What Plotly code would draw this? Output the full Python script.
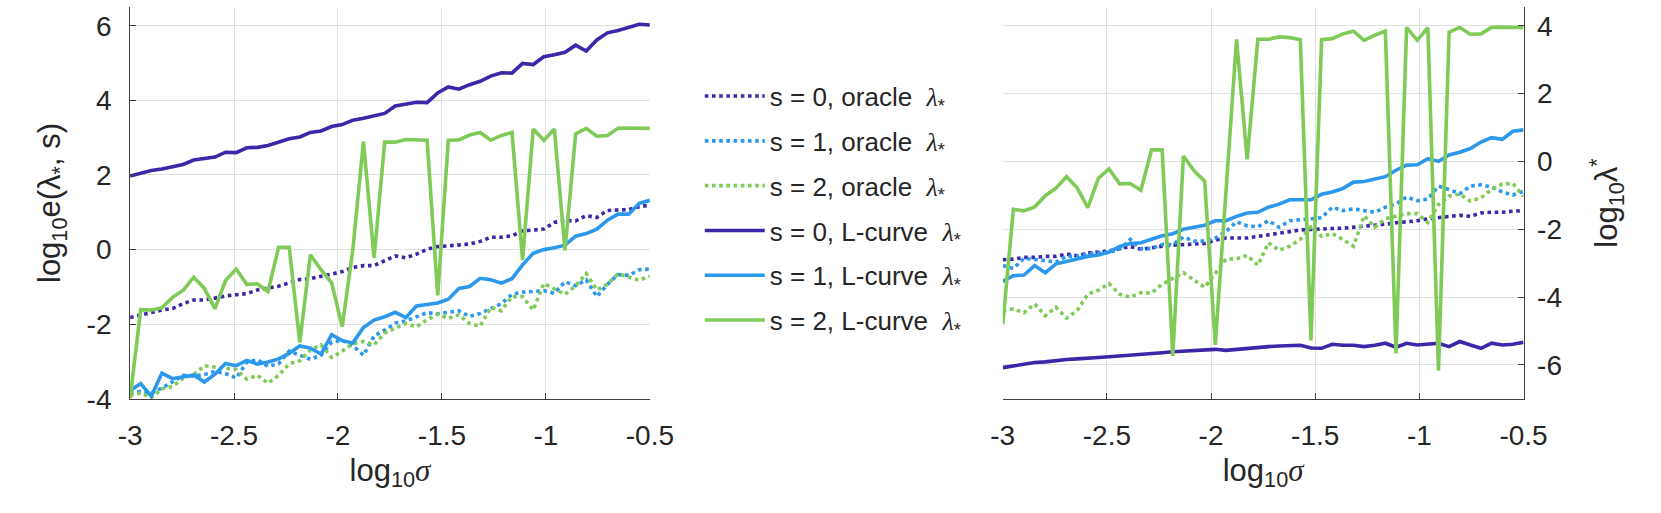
import plotly.graph_objects as go

# ---------------- data ----------------
sigma = [-3.0, -2.949, -2.898, -2.8469, -2.7959, -2.7449, -2.6939, -2.6429, -2.5918, -2.5408,
         -2.4898, -2.4388, -2.3878, -2.3367, -2.2857, -2.2347, -2.1837, -2.1327, -2.0816, -2.0306,
         -1.9796, -1.9286, -1.8776, -1.8265, -1.7755, -1.7245, -1.6735, -1.6224, -1.5714, -1.5204,
         -1.4694, -1.4184, -1.3673, -1.3163, -1.2653, -1.2143, -1.1633, -1.1122, -1.0612, -1.0102,
         -0.9592, -0.9082, -0.8571, -0.8061, -0.7551, -0.7041, -0.6531, -0.602, -0.551, -0.5]

# left panel: log10 e(lambda*, s)
e_oracle_s0 = [-1.82, -1.75, -1.67, -1.62, -1.58, -1.45, -1.35, -1.35, -1.30, -1.24,
               -1.21, -1.18, -1.08, -1.02, -0.98, -0.89, -0.80, -0.78, -0.72, -0.67,
               -0.59, -0.48, -0.43, -0.43, -0.29, -0.17, -0.22, -0.12, 0.01, 0.08,
               0.10, 0.13, 0.15, 0.22, 0.33, 0.33, 0.37, 0.50, 0.53, 0.55,
               0.73, 0.78, 0.77, 0.91, 0.86, 1.05, 1.06, 1.07, 1.15, 1.19]
e_oracle_s1 = [-3.85, -3.80, -3.84, -3.71, -3.54, -3.37, -3.39, -3.35, -3.26, -3.32,
               -3.44, -3.02, -2.95, -3.13, -3.06, -2.72, -2.83, -2.94, -2.83, -2.48,
               -2.43, -2.57, -2.83, -2.31, -2.16, -1.97, -1.91, -1.79, -1.69, -1.72,
               -1.69, -1.64, -1.79, -1.71, -1.58, -1.45, -1.20, -1.14, -1.12, -1.10,
               -1.17, -0.86, -0.97, -0.81, -1.26, -0.93, -0.67, -0.69, -0.54, -0.52]
e_oracle_s2 = [-3.90, -3.84, -3.97, -3.73, -3.67, -3.45, -3.35, -3.11, -3.15, -3.19,
               -3.21, -3.47, -3.37, -3.58, -3.37, -3.06, -2.98, -2.69, -2.55, -2.89,
               -2.72, -2.52, -2.46, -2.55, -2.24, -2.11, -1.98, -2.07, -1.88, -1.73,
               -1.84, -1.75, -1.98, -2.05, -1.55, -1.64, -1.26, -1.26, -1.62, -0.91,
               -1.06, -1.20, -0.97, -0.64, -1.08, -0.93, -0.65, -0.74, -0.82, -0.71]
e_lcurve_s0 = [1.97, 2.04, 2.12, 2.16, 2.21, 2.28, 2.40, 2.44, 2.48, 2.61,
               2.60, 2.73, 2.74, 2.79, 2.87, 2.97, 3.02, 3.14, 3.18, 3.30,
               3.35, 3.47, 3.52, 3.58, 3.65, 3.85, 3.90, 3.95, 3.94, 4.20,
               4.36, 4.30, 4.42, 4.51, 4.65, 4.74, 4.73, 4.99, 4.96, 5.17,
               5.22, 5.29, 5.48, 5.32, 5.62, 5.81, 5.87, 5.96, 6.04, 6.02]
e_lcurve_s1 = [-3.78, -3.59, -3.93, -3.31, -3.46, -3.40, -3.36, -3.55, -3.34, -3.05,
               -3.11, -2.97, -3.07, -3.01, -2.93, -2.78, -2.58, -2.64, -2.80, -2.28,
               -2.44, -2.50, -2.09, -1.89, -1.80, -1.68, -1.82, -1.51, -1.46, -1.43,
               -1.33, -1.04, -0.99, -0.77, -0.81, -0.90, -0.78, -0.41, -0.10, 0.00,
               0.05, 0.12, 0.36, 0.43, 0.55, 0.79, 0.95, 0.95, 1.24, 1.32]
e_lcurve_s2 = [-3.98, -1.61, -1.62, -1.56, -1.28, -1.09, -0.74, -1.04, -1.58, -0.83,
               -0.52, -0.93, -0.92, -1.12, 0.06, 0.06, -2.49, -0.14, -0.54, -0.89,
               -2.07, 0.00, 2.90, -0.22, 2.88, 2.88, 2.95, 2.94, 2.93, -1.23,
               2.93, 2.94, 3.07, 3.14, 2.93, 3.06, 3.14, -0.28, 3.23, 2.93,
               3.23, -0.02, 3.10, 3.25, 3.04, 3.06, 3.25, 3.26, 3.26, 3.25]

# right panel: log10 lambda*
lam_oracle_s0 = [-2.90, -2.88, -2.83, -2.83, -2.80, -2.80, -2.73, -2.78, -2.70, -2.67,
                 -2.64, -2.57, -2.51, -2.59, -2.54, -2.50, -2.47, -2.45, -2.45, -2.42,
                 -2.32, -2.26, -2.26, -2.26, -2.21, -2.17, -2.13, -2.07, -2.02, -2.00,
                 -1.99, -1.98, -1.97, -1.94, -1.92, -1.90, -1.85, -1.81, -1.78, -1.75,
                 -1.69, -1.66, -1.64, -1.59, -1.62, -1.52, -1.50, -1.50, -1.47, -1.45]
lam_oracle_s1 = [-3.07, -3.16, -2.86, -2.88, -2.92, -2.97, -2.80, -2.80, -2.73, -2.69,
                 -2.69, -2.59, -2.30, -2.57, -2.57, -2.45, -2.45, -2.23, -2.35, -2.35,
                 -2.26, -2.07, -1.78, -1.90, -1.93, -1.75, -1.94, -1.75, -1.71, -1.69,
                 -1.66, -1.35, -1.45, -1.40, -1.45, -1.50, -1.35, -1.26, -1.05, -1.16,
                 -1.11, -0.73, -0.83, -0.95, -0.73, -0.69, -0.76, -0.90, -0.99, -0.88]
lam_oracle_s2 = [-4.40, -4.35, -4.46, -4.20, -4.55, -4.30, -4.62, -4.40, -3.91, -3.80,
                 -3.60, -3.92, -4.00, -3.87, -3.88, -3.62, -3.45, -3.28, -3.50, -3.71,
                 -3.30, -2.88, -2.87, -2.77, -3.06, -2.40, -2.62, -2.50, -2.30, -1.93,
                 -2.21, -2.13, -2.30, -2.50, -1.60, -1.94, -1.69, -1.62, -1.54, -1.54,
                 -1.80, -1.27, -1.02, -0.96, -1.17, -1.07, -0.83, -0.67, -0.65, -1.03]
lam_lcurve_s0 = [-6.08, -6.03, -5.96, -5.93, -5.91, -5.87, -5.84, -5.82, -5.81, -5.78,
                 -5.76, -5.74, -5.71, -5.68, -5.66, -5.64, -5.61, -5.59, -5.56, -5.56,
                 -5.54, -5.57, -5.54, -5.50, -5.47, -5.46, -5.44, -5.44, -5.42, -5.50,
                 -5.51, -5.39, -5.42, -5.42, -5.46, -5.42, -5.36, -5.48, -5.36, -5.41,
                 -5.39, -5.36, -5.46, -5.31, -5.41, -5.51, -5.36, -5.41, -5.39, -5.33]
lam_lcurve_s1 = [-3.54, -3.37, -3.35, -3.07, -3.28, -3.02, -2.95, -2.88, -2.80, -2.76,
                 -2.67, -2.51, -2.42, -2.40, -2.30, -2.19, -2.13, -2.00, -1.94, -1.88,
                 -1.75, -1.75, -1.62, -1.52, -1.50, -1.35, -1.26, -1.13, -1.13, -1.13,
                 -0.97, -0.90, -0.80, -0.61, -0.59, -0.51, -0.45, -0.26, -0.11, -0.10,
                 0.08, 0.00, 0.19, 0.27, 0.38, 0.57, 0.70, 0.65, 0.89, 0.93]
lam_lcurve_s2 = [-4.80, -1.41, -1.46, -1.34, -1.01, -0.79, -0.45, -0.78, -1.36, -0.50,
                 -0.22, -0.66, -0.65, -0.85, 0.34, 0.34, -5.73, 0.16, -0.28, -0.58,
                 -5.41, -0.90, 3.60, 0.06, 3.60, 3.60, 3.67, 3.65, 3.59, -5.28,
                 3.59, 3.62, 3.76, 3.84, 3.57, 3.72, 3.84, -5.66, 3.95, 3.57,
                 3.94, -6.17, 3.81, 3.95, 3.75, 3.76, 3.95, 3.95, 3.95, 3.95]

x_tickvals = [-3, -2.5, -2, -1.5, -1, -0.5]
x_ticktext = ["-3", "-2.5", "-2", "-1.5", "-1", "-0.5"]
yl_tickvals = [-4, -2, 0, 2, 4, 6]
yl_ticktext = ["-4", "-2", "0", "2", "4", "6"]
yr_tickvals = [-6, -4, -2, 0, 2, 4]
yr_ticktext = ["-6", "-4", "-2", "0", "2", "4"]

LAM = "<span style='font-family:Liberation Serif'><i>λ</i></span>"
legend_names = [
    "s = 0, oracle \u00a0" + LAM + "<sub>*</sub>",
    "s = 1, oracle \u00a0" + LAM + "<sub>*</sub>",
    "s = 2, oracle \u00a0" + LAM + "<sub>*</sub>",
    "s = 0, L-curve \u00a0" + LAM + "<sub>*</sub>",
    "s = 1, L-curve \u00a0" + LAM + "<sub>*</sub>",
    "s = 2, L-curve \u00a0" + LAM + "<sub>*</sub>",
]

C0, C1, C2 = "#3e26a8", "#2b98ec", "#80cb58"
colors = [C0, C1, C2, C0, C1, C2]
dashes = ["dot", "dot", "dot", "solid", "solid", "solid"]
left_series = [e_oracle_s0, e_oracle_s1, e_oracle_s2, e_lcurve_s0, e_lcurve_s1, e_lcurve_s2]
right_series = [lam_oracle_s0, lam_oracle_s1, lam_oracle_s2, lam_lcurve_s0, lam_lcurve_s1, lam_lcurve_s2]

LW = 3.6
fig = go.Figure()
for k in range(6):
    fig.add_trace(go.Scatter(
        x=sigma, y=left_series[k], mode="lines", name=legend_names[k],
        line=dict(color=colors[k], width=LW, dash=dashes[k]),
        xaxis="x", yaxis="y", legendgroup="g%d" % k, showlegend=True))
for k in range(6):
    fig.add_trace(go.Scatter(
        x=sigma, y=right_series[k], mode="lines", name=legend_names[k],
        line=dict(color=colors[k], width=LW, dash=dashes[k]),
        xaxis="x2", yaxis="y2", legendgroup="g%d" % k, showlegend=False))

TXT = "#262626"
AX = "#404040"
GRID = "#e0e0e0"
FONT = "Liberation Sans, Arial, sans-serif"
TICKSIZE = 28
TITLESIZE = 31

def xax(domain, anchor):
    return dict(domain=domain, anchor=anchor, range=[-3, -0.5],
                tickmode="array", tickvals=x_tickvals, ticktext=x_ticktext,
                ticks="inside", ticklen=6, tickcolor=AX, tickwidth=1,
                showline=True, linecolor=AX, linewidth=1, mirror=False,
                showgrid=True, gridcolor=GRID, gridwidth=1, zeroline=False,
                tickfont=dict(size=TICKSIZE, color=TXT, family=FONT),
                ticklabelstandoff=12,
                title=dict(text="log<sub>10</sub><span style='font-family:Liberation Serif'><i>σ</i></span>",
                           font=dict(size=TITLESIZE, color=TXT, family=FONT), standoff=8))

ydom = [1 - 411.7 / 513, 1 - 7.3 / 513]
fig.update_layout(
    width=1661, height=513,
    margin=dict(l=0, r=0, t=0, b=0),
    paper_bgcolor="white", plot_bgcolor="white",
    font=dict(family=FONT, color=TXT),
    xaxis=xax([120.7 / 1661, 652 / 1661], "y"),
    xaxis2=xax([1012.7 / 1661, 1545 / 1661], "y2"),
    yaxis=dict(domain=ydom, anchor="x", range=[-4, 6.5],
               tickmode="array", tickvals=yl_tickvals, ticktext=yl_ticktext,
               ticks="inside", ticklen=6, tickcolor=AX, tickwidth=1,
               showline=True, linecolor=AX, linewidth=1, mirror=False,
               showgrid=True, gridcolor=GRID, gridwidth=1, zeroline=False,
               tickfont=dict(size=TICKSIZE, color=TXT, family=FONT),
               ticklabelstandoff=12,
               title=dict(text="log<sub>10</sub>e(λ<sub>*</sub>, s)",
                          font=dict(size=TITLESIZE, color=TXT, family=FONT), standoff=16)),
    yaxis2=dict(domain=ydom, anchor="x2", side="right", range=[-7, 4.55],
                tickmode="array", tickvals=yr_tickvals, ticktext=yr_ticktext,
                ticks="inside", ticklen=6, tickcolor=AX, tickwidth=1,
                showline=True, linecolor=AX, linewidth=1, mirror=False,
                showgrid=True, gridcolor=GRID, gridwidth=1, zeroline=False,
                tickfont=dict(size=TICKSIZE, color=TXT, family=FONT),
                ticklabelstandoff=7,
                title=dict(text="log<sub>10</sub>λ<sup>*</sup>",
                           font=dict(size=TITLESIZE, color=TXT, family=FONT), standoff=34)),
    legend=dict(x=703 / 1661, xanchor="left", y=1 - 75 / 513, yanchor="top",
                font=dict(size=26, color=TXT, family=FONT),
                bgcolor="rgba(0,0,0,0)", borderwidth=0,
                tracegroupgap=8, itemwidth=60),
    showlegend=True,
)

fig.write_html("out.html", config={"displayModeBar": False},
               post_script="document.body.style.margin='0';")
